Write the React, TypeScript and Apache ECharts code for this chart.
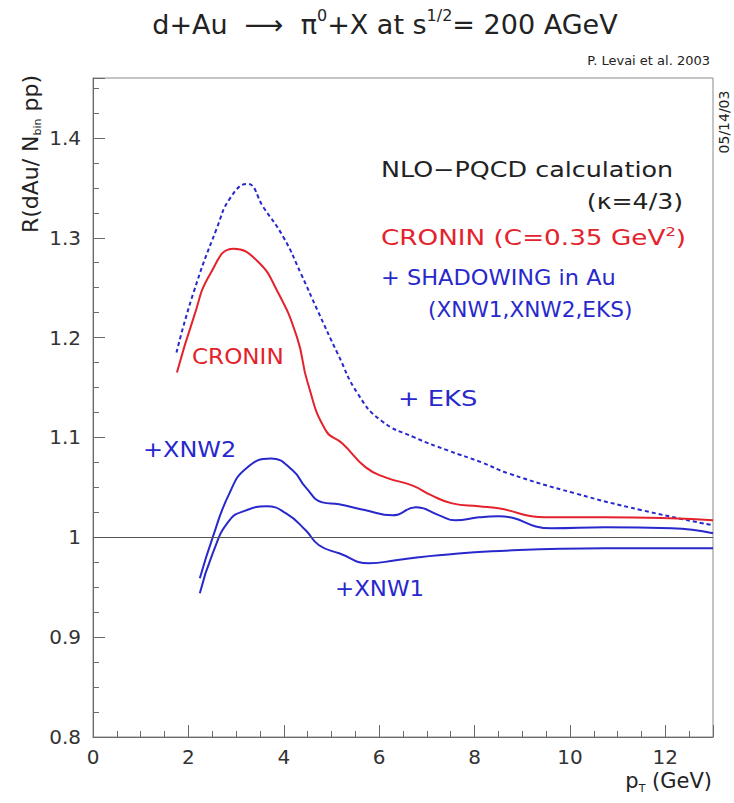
import React, { useEffect, useRef } from "react";
import * as echarts from "echarts";

// ---- data ----
const ptEKS = [1.75, 2.1, 2.6, 2.88, 3.23, 3.58, 4.0, 4.36, 4.71, 5.13, 5.55, 6.04, 6.74, 7.44, 8.15, 8.71, 10.11, 11.52, 13.0];
const rEKS = [1.185, 1.244, 1.31, 1.34, 1.354, 1.33, 1.3, 1.264, 1.227, 1.184, 1.144, 1.117, 1.1, 1.087, 1.075, 1.064, 1.044, 1.027, 1.012];

const ptCronin = [1.76, 2.11, 2.46, 2.95, 3.44, 3.86, 4.28, 4.5, 4.88, 5.23, 5.72, 6.13, 6.69, 7.1, 7.53, 8.09, 8.5, 9.48, 10.7, 12.1, 13.0];
const rCronin = [1.165, 1.22, 1.264, 1.289, 1.277, 1.247, 1.2, 1.155, 1.107, 1.094, 1.07, 1.06, 1.052, 1.042, 1.034, 1.031, 1.029, 1.02, 1.02, 1.019, 1.017];

const ptXNW2 = [2.24, 2.51, 2.86, 3.21, 3.73, 4.19, 4.46, 4.81, 5.16, 5.72, 6.28, 6.77, 7.26, 7.6, 8.09, 8.5, 9.62, 10.74, 12.13, 13.0];
const rXNW2 = [0.959, 1.0, 1.044, 1.069, 1.079, 1.067, 1.05, 1.035, 1.033, 1.027, 1.022, 1.03, 1.022, 1.017, 1.02, 1.021, 1.009, 1.01, 1.009, 1.004];

const ptXNW1 = [2.24, 2.51, 2.86, 3.21, 3.63, 4.05, 4.46, 4.74, 5.16, 5.79, 6.35, 6.83, 7.25, 8.36, 10.74, 13.0];
const rXNW1 = [0.944, 0.984, 1.017, 1.027, 1.031, 1.024, 1.007, 0.992, 0.984, 0.974, 0.977, 0.98, 0.982, 0.986, 0.989, 0.989];

const referenceLevel = 1;

const RED = "#e4222c";
const BLUE = "#2828cc";
const INK = "#222";
const FONT = "DejaVu Sans";

const zip = (xs: number[], ys: number[]) => xs.map((x, i) => [x, ys[i]]);

export default function App() {
  const ref = useRef<HTMLDivElement>(null);
  useEffect(() => {
    if (!ref.current) return;
    const chart = echarts.init(ref.current, null, { renderer: "svg" });
    const lineBase = {
      type: "line",
      showSymbol: false,
      smooth: 0.5,
      silent: true,
    };
    const txt = (x: number, y: number, text: string, color: string, size: number, sx: number, align = "left") => ({
      type: "text",
      x,
      y,
      scaleX: sx,
      style: {
        text,
        fill: color,
        fontFamily: FONT,
        fontSize: size,
        align,
        verticalAlign: "middle",
      },
    });
    chart.setOption({
      animation: false,
      backgroundColor: "#ffffff",
      grid: {
        left: 93,
        top: 78,
        width: 620,
        height: 659,
        show: true,
        borderColor: "#8a8a8a",
        borderWidth: 1,
      },
      xAxis: {
        type: "value",
        min: 0,
        max: 13,
        interval: 2,
        axisLine: { lineStyle: { color: "#6a6a6a", width: 1 } },
        axisTick: { inside: true, length: 12, lineStyle: { color: "#6a6a6a" } },
        minorTick: { show: true, splitNumber: 4, length: 6, lineStyle: { color: "#6a6a6a" } },
        splitLine: { show: false },
        axisLabel: { showMaxLabel: false, color: "#333", fontFamily: FONT, fontSize: 20, margin: 10 },
      },
      yAxis: {
        type: "value",
        min: 0.8,
        max: 1.46,
        interval: 0.1,
        axisLine: { show: true, lineStyle: { color: "#6a6a6a", width: 1 } },
        axisTick: { show: true, inside: true, length: 12, lineStyle: { color: "#6a6a6a" } },
        minorTick: { show: true, splitNumber: 4, length: 6, lineStyle: { color: "#6a6a6a" } },
        splitLine: { show: false },
        axisLabel: { showMaxLabel: false, color: "#333", fontFamily: FONT, fontSize: 20, margin: 12 },
      },
      series: [
        {
          ...lineBase,
          name: "EKS",
          data: zip(ptEKS, rEKS),
          lineStyle: { color: BLUE, width: 2, type: [4, 3] },
          markLine: {
            silent: true,
            symbol: "none",
            label: { show: false },
            lineStyle: { color: "#555", width: 1, type: "solid" },
            data: [{ yAxis: referenceLevel }],
          },
        },
        { ...lineBase, name: "CRONIN", data: zip(ptCronin, rCronin), lineStyle: { color: RED, width: 2 } },
        { ...lineBase, name: "XNW2", data: zip(ptXNW2, rXNW2), lineStyle: { color: BLUE, width: 2 } },
        { ...lineBase, name: "XNW1", data: zip(ptXNW1, rXNW1), lineStyle: { color: BLUE, width: 2 } },
      ],
      graphic: [
        {
          type: "text",
          x: 385,
          y: 24,
          style: {
            text: "{a|d+Au  ⟶  π}{s|0}{a|+X at s}{s|1/2}{a|= 200 AGeV}",
            align: "center",
            verticalAlign: "middle",
            rich: {
              a: { fontFamily: FONT, fontSize: 27, fill: INK, lineHeight: 34 },
              s: { fontFamily: FONT, fontSize: 16, fill: INK, lineHeight: 34, verticalAlign: "top", padding: [0, 0, 14, 0] },
            },
          },
        },
        txt(710, 60, "P. Levai et al. 2003", INK, 13, 1.0, "right"),
        {
          type: "text",
          x: 724,
          y: 122,
          rotation: Math.PI / 2,
          style: { text: "05/14/03", fill: INK, fontFamily: FONT, fontSize: 14, align: "center", verticalAlign: "middle" },
        },
        {
          type: "text",
          x: 30,
          y: 154,
          rotation: Math.PI / 2,
          style: {
            text: "{a|R(dAu/ N}{s|bin}{a| pp)}",
            align: "center",
            verticalAlign: "middle",
            rich: {
              a: { fontFamily: FONT, fontSize: 22, fill: INK, lineHeight: 26 },
              s: { fontFamily: FONT, fontSize: 11, fill: INK, lineHeight: 26, verticalAlign: "bottom", padding: [8, 0, 0, 0] },
            },
          },
        },
        {
          type: "text",
          x: 712,
          y: 781,
          style: {
            text: "{a|p}{s|T}{a| (GeV)}",
            align: "right",
            verticalAlign: "middle",
            rich: {
              a: { fontFamily: FONT, fontSize: 21, fill: INK, lineHeight: 26 },
              s: { fontFamily: FONT, fontSize: 11, fill: INK, lineHeight: 26, verticalAlign: "bottom", padding: [8, 0, 0, 0] },
            },
          },
        },
        txt(381, 169, "NLO−PQCD calculation", INK, 21, 1.21),
        txt(683, 201, "(κ=4/3)", INK, 21, 1.2, "right"),
        {
          type: "text",
          x: 381,
          y: 238,
          scaleX: 1.25,
          style: {
            text: "{a|CRONIN (C=0.35 GeV}{s|2}{a|)}",
            align: "left",
            verticalAlign: "middle",
            rich: {
              a: { fontFamily: FONT, fontSize: 21, fill: RED, lineHeight: 26 },
              s: { fontFamily: FONT, fontSize: 13, fill: RED, lineHeight: 26, verticalAlign: "top", padding: [0, 0, 10, 0] },
            },
          },
        },
        txt(381, 278, "+ SHADOWING in Au", BLUE, 21, 1.07),
        txt(428, 310, "(XNW1,XNW2,EKS)", BLUE, 21, 1.03),
        txt(192, 357, "CRONIN", RED, 21, 1.1),
        txt(398, 399, "+ EKS", BLUE, 22, 1.17),
        txt(143, 450, "+XNW2", BLUE, 21, 1.14),
        txt(335, 589, "+XNW1", BLUE, 21, 1.09),
      ],
    });
    return () => chart.dispose();
  }, []);
  return <div ref={ref} style={{ width: 734, height: 803, position: "absolute", left: 0, top: 0 }} />;
}
